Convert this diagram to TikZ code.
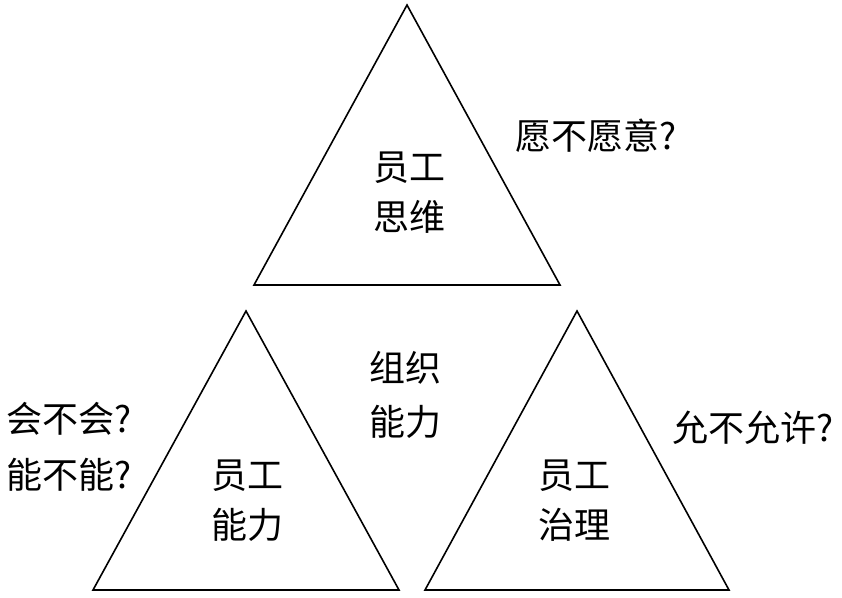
\documentclass[tikz,border=0pt]{standalone}
\usepackage{fontspec}
\setmainfont{Noto Sans CJK SC}
\begin{document}
\begin{tikzpicture}[x=1pt, y=-1pt, thick]

    \tikzset{
        tri/.style={draw, line width=1.6pt, line join=miter},
        lbl/.style={font=\fontsize{36}{50}\selectfont, align=center, inner sep=0pt}
    }
    \useasboundingbox (0,0) rectangle (842,597);

    % Top triangle: thinking
    \coordinate (ta) at (407,5);
    \coordinate (tl) at (254,285);
    \coordinate (tr) at (560,285);
    \draw[tri] (ta) -- (tl) -- (tr) -- cycle;

    % Bottom left triangle: ability
    \coordinate (la) at (246,311);
    \coordinate (ll) at (93,590);
    \coordinate (lr) at (399,590);
    \draw[tri] (la) -- (ll) -- (lr) -- cycle;

    % Bottom right triangle: governance
    \coordinate (ra) at (577,311);
    \coordinate (rl) at (425,590);
    \coordinate (rr) at (729,590);
    \draw[tri] (ra) -- (rl) -- (rr) -- cycle;

    % Labels inside the triangles
    \node[lbl] (think) at (409,193) {员工\\思维};
    \node[lbl] (abil) at (247,501) {员工\\能力};
    \node[lbl] (gov) at (574,501) {员工\\治理};

    % Questions and centre label
    \node[lbl] (willing) at (596,136) {愿不愿意?};
    \node[lbl, font=\fontsize{36}{54}\selectfont] (org) at (405,395) {组织\\能力};
    \node[lbl, font=\fontsize{36}{56}\selectfont] (can) at (69,447) {会不会?\\能不能?};
    \node[lbl] (allow) at (753,428) {允不允许?};

\end{tikzpicture}
\end{document}
